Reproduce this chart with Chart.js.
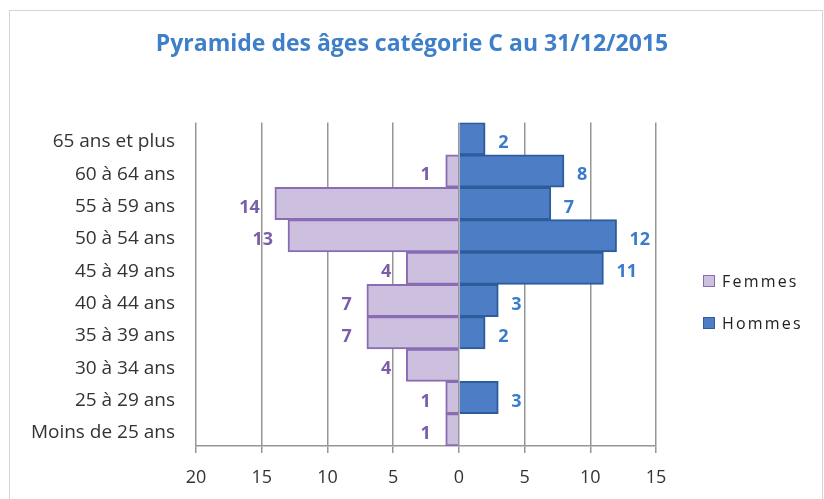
<!DOCTYPE html>
<html lang="fr">
<head>
<meta charset="UTF-8">
<title>Pyramide des âges</title>
<script src="https://cdn.jsdelivr.net/npm/chart.js@4"></script>
<style>
    html, body { margin: 0; padding: 0; background: #fff; }
    body { width: 824px; height: 499px; position: relative; overflow: hidden; font-family: 'Open Sans', sans-serif; }
    .frame { position: absolute; left: 9px; top: 10px; width: 812px; height: 520px; border: 1px solid #d4d4d4; }
    #pyramide { position: absolute; left: 0; top: 0; }
    .legende { position: absolute; left: 703px; top: 271px; font-size: 16px; color: #222; letter-spacing: 2.2px; }
    .legende div { display: flex; align-items: center; height: 20px; margin-bottom: 22px; }
    .legende span.carre { width: 12px; height: 12px; margin-right: 7px; box-sizing: border-box; border: 1.5px solid; }
</style>
</head>
<body>
<div class="frame"></div>
<canvas id="pyramide" width="824" height="499"></canvas>
<div class="legende">
    <div><span class="carre" style="background:#ccc0de;border-color:#8a6cb4"></span>Femmes</div>
    <div><span class="carre" style="background:#4c7dc5;border-color:#2d5c9c"></span>Hommes</div>
</div>

<script>
    // tranches d'âge, du haut vers le bas
    const tranches = ['65 ans et plus', '60 à 64 ans', '55 à 59 ans', '50 à 54 ans', '45 à 49 ans',
                      '40 à 44 ans', '35 à 39 ans', '30 à 34 ans', '25 à 29 ans', 'Moins de 25 ans'];
    const femmes = [0, 1, 14, 13, 4, 7, 7, 4, 1, 1];
    const hommes = [2, 8, 7, 12, 11, 3, 2, 0, 3, 0];
    const graduations = [-20, -15, -10, -5, 0, 5, 10, 15];

    const titre = 'Pyramide des âges catégorie C au 31/12/2015';
    const police = "'Open Sans', sans-serif";

    // étiquettes de valeur au bout des barres
    const etiquettes = {
        id: 'etiquettes',
        afterDatasetsDraw(chart) {
            const ctx = chart.ctx;
            ctx.save();
            ctx.font = 'bold 18px ' + police;
            ctx.textBaseline = 'middle';
            chart.data.datasets.forEach((ds, i) => {
                const meta = chart.getDatasetMeta(i);
                meta.data.forEach((bar, j) => {
                    const v = ds.data[j];
                    if (!v) return;
                    if (v < 0) {
                        ctx.fillStyle = '#7b5ea8';
                        ctx.textAlign = 'right';
                        ctx.fillText(Math.abs(v), bar.x - 15, bar.y + 4);
                    } else {
                        ctx.fillStyle = '#3a7ccb';
                        ctx.textAlign = 'left';
                        ctx.fillText(v, bar.x + 13, bar.y + 4);
                    }
                });
            });
            ctx.restore();
        }
    };

    new Chart(document.getElementById('pyramide'), {
        type: 'bar',
        data: {
            labels: tranches,
            datasets: [
                { label: 'Femmes', data: femmes.map(v => -v), backgroundColor: '#ccc0de', borderColor: '#8a6cb4', borderWidth: 2 },
                { label: 'Hommes', data: hommes, backgroundColor: '#4c7dc5', borderColor: '#2d5c9c', borderWidth: 2 }
            ]
        },
        options: {
            indexAxis: 'y',
            responsive: false,
            animation: false,
            devicePixelRatio: 1,
            barPercentage: 1,
            categoryPercentage: 1,
            layout: { padding: 0 },
            plugins: {
                legend: { display: false },
                tooltip: { enabled: false },
                title: {
                    display: true,
                    text: titre,
                    color: '#3f7fc9',
                    font: { family: police, size: 23, weight: 'bold' },
                    padding: { top: 31, bottom: 64 }
                }
            },
            scales: {
                x: {
                    stacked: true,
                    min: -20,
                    max: 15,
                    afterBuildTicks: s => { s.ticks = graduations.map(v => ({ value: v })); },
                    afterFit: s => { s.height = 53; },
                    ticks: {
                        color: '#333',
                        padding: 14,
                        font: { family: police, size: 18 },
                        callback: v => Math.abs(v)
                    },
                    grid: { color: '#969696', lineWidth: 1.5, tickLength: 7 },
                    border: { color: '#969696', width: 1.5 }
                },
                y: {
                    stacked: true,
                    afterFit: s => { s.width = 196; },
                    ticks: {
                        color: '#333',
                        padding: 0,
                        labelOffset: 3,
                        font: { family: police, size: 19 }
                    },
                    grid: { display: false, drawTicks: true, tickLength: 21 },
                    border: { display: false }
                },
                // réserve la place de la légende à droite
                marge: {
                    type: 'linear',
                    position: 'right',
                    ticks: { display: false },
                    grid: { display: false, drawTicks: false },
                    border: { display: false },
                    afterFit: s => { s.width = 168; }
                }
            }
        },
        plugins: [etiquettes]
    });
</script>
</body>
</html>
